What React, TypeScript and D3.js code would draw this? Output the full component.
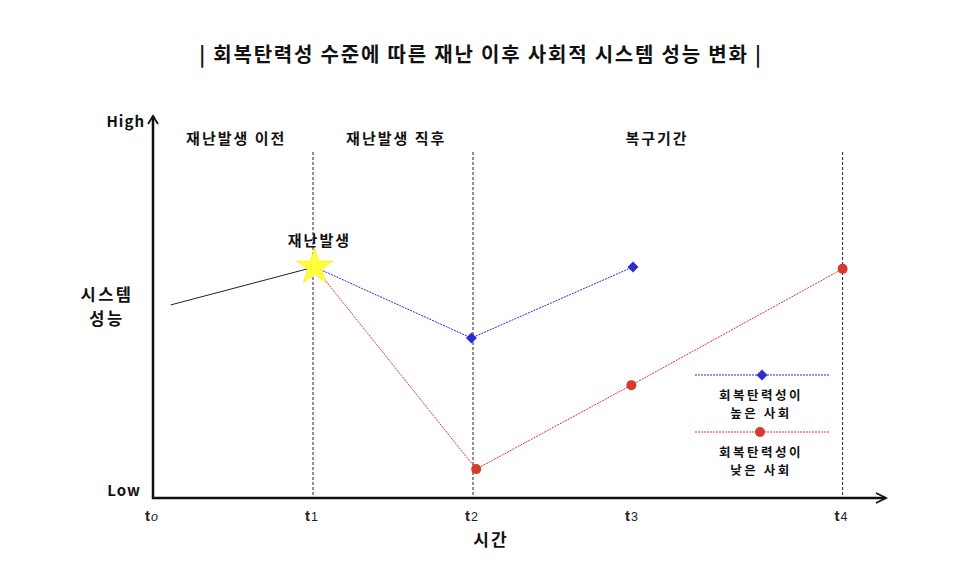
import React from "react";
import * as d3 from "d3";

const title = "| 회복탄력성 수준에 따른 재난 이후 사회적 시스템 성능 변화 |";
const timeTicks = [
  { t: 0, base: "t", sub: "o", italic: true },
  { t: 1, base: "t", sub: "1", italic: false },
  { t: 2, base: "t", sub: "2", italic: false },
  { t: 3, base: "t", sub: "3", italic: false },
  { t: 4.31, base: "t", sub: "4", italic: false },
];
const dashedAt = [1, 2, 4.31];
const periods = [
  { label: "재난발생 이전", t: 0.52 },
  { label: "재난발생 직후", t: 1.52 },
  { label: "복구기간", t: 3.15 },
];
const preDisaster = [
  { t: 0.11, v: 50.8 },
  { t: 1.01, v: 60.8 },
];
const highResilience = [
  { t: 1.01, v: 60.8 },
  { t: 1.99, v: 42.1 },
  { t: 3.0, v: 60.8 },
];
const lowResilience = [
  { t: 1.01, v: 60.8 },
  { t: 2.02, v: 7.6 },
  { t: 2.99, v: 29.7 },
  { t: 4.31, v: 60.3 },
];
const legendHigh = ["회복탄력성이", "높은 사회"];
const legendLow = ["회복탄력성이", "낮은 사회"];

const FONT = "'Noto Sans CJK KR', 'Noto Sans', sans-serif";

export default function App() {
  const W = 968, H = 572;
  const x = d3.scaleLinear().domain([0, 1]).range([153, 313]);
  const y = d3.scaleLinear().domain([0, 100]).range([498, 118]);
  const line = d3.line<{ t: number; v: number }>().x((d) => x(d.t)).y((d) => y(d.v));
  const star = d3.symbol().type(d3.symbolStar).size(430)();
  const diamond = d3.symbol().type(d3.symbolSquare).size(60)();

  const blue = "#2b2bd0";
  const red = "#d63a2a";
  const axisY0 = y(0);
  const yTop = 116;
  const xEnd = 886;

  return (
    <svg width={W} height={H} style={{ display: "block", position: "absolute", left: 0, top: 0 }} fontFamily={FONT}>
      <rect width={W} height={H} fill="#fff" />
      <text x={481} y={62} textAnchor="middle" fontSize={20} fontWeight="bold" letterSpacing={1.8} fill="#111">{title}</text>

      {dashedAt.map((t) => (
        <line key={t} x1={x(t)} x2={x(t)} y1={152} y2={axisY0} stroke="#222" strokeWidth={1} strokeDasharray="3,2" />
      ))}

      {periods.map((p) => (
        <text key={p.label} x={x(p.t)} y={144} textAnchor="middle" fontSize={15} fontWeight="bold" letterSpacing={2} fill="#111">{p.label}</text>
      ))}

      <path d={line(preDisaster) || ""} fill="none" stroke="#222" strokeWidth={1} />
      <path d={line(highResilience) || ""} fill="none" stroke={blue} strokeWidth={1} strokeDasharray="2,1" />
      <path d={line(lowResilience) || ""} fill="none" stroke={red} strokeWidth={1} strokeDasharray="2,1" />
      {highResilience.slice(1).map((d, i) => (
        <path key={i} d={diamond || ""} transform={`translate(${x(d.t)},${y(d.v)}) rotate(45)`} fill={blue} />
      ))}
      {lowResilience.slice(1).map((d, i) => (
        <circle key={i} cx={x(d.t)} cy={y(d.v)} r={5} fill={red} />
      ))}
      <path d={star || ""} transform={`translate(${x(1.01)},${y(60.8)})`} fill="#ffff3a" stroke="#f0e020" strokeWidth={0.5} />
      <text x={x(1.04)} y={246} textAnchor="middle" fontSize={15} fontWeight="bold" letterSpacing={2} fill="#111">재난발생</text>

      <line x1={153} x2={153} y1={yTop} y2={axisY0 + 1} stroke="#111" strokeWidth={2.5} />
      <line x1={152} x2={xEnd} y1={axisY0} y2={axisY0} stroke="#111" strokeWidth={2.5} />
      <path d={`M148,124 L153,${yTop} L158,124`} fill="none" stroke="#111" strokeWidth={1.8} />
      <path d={`M876,${axisY0 - 5} L${xEnd},${axisY0} L876,${axisY0 + 5}`} fill="none" stroke="#111" strokeWidth={1.8} />

      <text x={145} y={127} textAnchor="end" fontSize={15} fontWeight="bold" letterSpacing={1} fill="#111">High</text>
      <text x={141} y={496} textAnchor="end" fontSize={15} fontWeight="bold" letterSpacing={1} fill="#111">Low</text>
      <text x={107} y={301} textAnchor="middle" fontSize={16.5} fontWeight="bold" letterSpacing={2.5} fill="#111">시스템</text>
      <text x={107} y={325} textAnchor="middle" fontSize={16.5} fontWeight="bold" letterSpacing={2.5} fill="#111">성능</text>

      {timeTicks.map((tk) => (
        <text key={tk.sub} x={x(tk.t) - 8} y={521} fontSize={15} fontWeight="bold" fill="#222" fontFamily="'Liberation Sans', Arial, sans-serif">
          {tk.base}
          <tspan fontSize={12.5} fontWeight="normal" fontStyle={tk.italic ? "italic" : "normal"} dx={1}>{tk.sub}</tspan>
        </text>
      ))}
      <text x={491} y={546} textAnchor="middle" fontSize={17} fontWeight="bold" letterSpacing={2} fill="#111">시간</text>

      <line x1={695} x2={830} y1={375} y2={375} stroke={blue} strokeWidth={1} strokeDasharray="2,1" />
      <path d={diamond || ""} transform="translate(762,375) rotate(45)" fill={blue} />
      {legendHigh.map((s, i) => (
        <text key={i} x={761} y={400 + i * 18} textAnchor="middle" fontSize={12.5} fontWeight="bold" letterSpacing={2.5} fill="#111">{s}</text>
      ))}
      <line x1={695} x2={830} y1={432} y2={432} stroke={red} strokeWidth={1} strokeDasharray="2,1" />
      <circle cx={760} cy={432} r={5} fill={red} />
      {legendLow.map((s, i) => (
        <text key={i} x={761} y={457 + i * 18} textAnchor="middle" fontSize={12.5} fontWeight="bold" letterSpacing={2.5} fill="#111">{s}</text>
      ))}
    </svg>
  );
}
